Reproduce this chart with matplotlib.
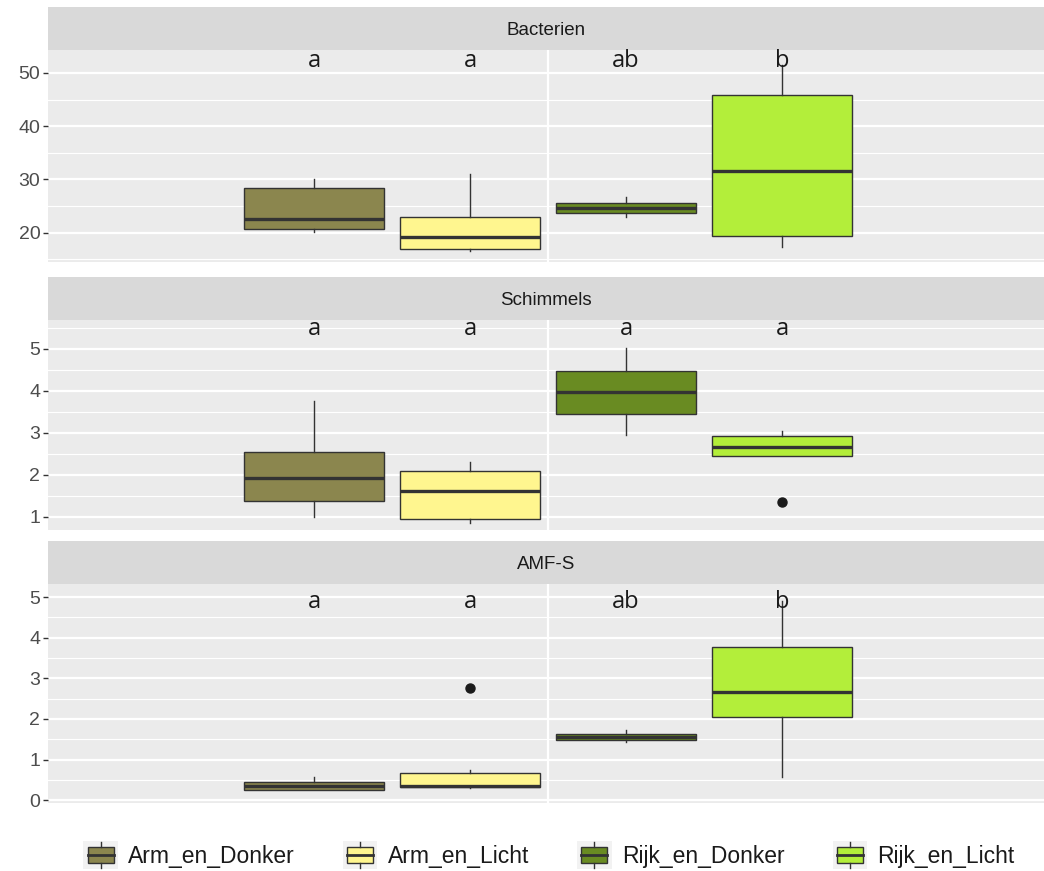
import matplotlib
matplotlib.use("Agg")
import matplotlib.pyplot as plt
from matplotlib.patches import Patch, Rectangle
from matplotlib.lines import Line2D
from matplotlib.legend_handler import HandlerBase

plt.rcParams["font.family"] = ["Liberation Sans", "DejaVu Sans"]

# groepen en kleuren
groups = ["Arm_en_Donker", "Arm_en_Licht", "Rijk_en_Donker", "Rijk_en_Licht"]
colors = ["#8B864E", "#FFF68F", "#698B22", "#B3EE3A"]

# Bacterien
bact_q1 = [20.7, 16.9, 23.7, 19.3]
bact_med = [22.6, 19.1, 24.6, 31.5]
bact_q3 = [28.3, 23.0, 25.6, 45.8]
bact_lo = [20.2, 16.5, 23.0, 17.4]
bact_hi = [30.0, 31.1, 26.7, 51.5]
bact_out = [[], [], [], []]
bact_letters = ["a", "a", "ab", "b"]
bact_letter_y = 52.2

# Schimmels
schim_q1 = [1.36, 0.95, 3.45, 2.45]
schim_med = [1.92, 1.61, 3.96, 2.65]
schim_q3 = [2.53, 2.09, 4.47, 2.92]
schim_lo = [0.98, 0.85, 2.94, 2.45]
schim_hi = [3.76, 2.31, 5.02, 3.04]
schim_out = [[], [], [], [1.34]]
schim_letters = ["a", "a", "a", "a"]
schim_letter_y = 5.46

# AMF-S
amf_q1 = [0.26, 0.32, 1.48, 2.04]
amf_med = [0.34, 0.36, 1.55, 2.66]
amf_q3 = [0.45, 0.66, 1.62, 3.77]
amf_lo = [0.24, 0.30, 1.43, 0.57]
amf_hi = [0.56, 0.74, 1.73, 4.90]
amf_out = [[], [2.76], [], []]
amf_letters = ["a", "a", "ab", "b"]
amf_letter_y = 4.88

W, H = 1044, 871
fig = plt.figure(figsize=(W / 100, H / 100), dpi=100)

EDGE = "#333333"


def px_axes(left, top, right, bottom):
    return fig.add_axes([left / W, 1 - bottom / H, (right - left) / W, (bottom - top) / H])


def panel(title, q1, med, q3, lo, hi, out, letters, letter_y,
          top, bottom, ylim, major, minor):
    # strip boven het paneel
    st = px_axes(48, top - 43, W, top)
    st.set_facecolor("#D9D9D9")
    st.set_xticks([]); st.set_yticks([])
    for s in st.spines.values():
        s.set_visible(False)
    st.text(0.5, 0.45, title, ha="center", va="center", fontsize=13.5,
            color="#1A1A1A", transform=st.transAxes)

    ax = px_axes(48, top, W, bottom)
    ax.set_facecolor("#EBEBEB")
    for s in ax.spines.values():
        s.set_visible(False)
    ax.set_xlim(1 - 500 / 832, 1 + 496 / 832)
    ax.set_ylim(*ylim)
    ax.set_yticks(major)
    ax.set_yticks(minor, minor=True)
    ax.set_xticks([1])
    ax.set_xticklabels([])
    ax.grid(True, which="major", color="white", lw=1.6)
    ax.grid(True, which="minor", axis="y", color="white", lw=0.8)
    ax.set_axisbelow(True)
    ax.tick_params(axis="y", which="major", length=3.5, width=1, color="#333333",
                   labelsize=14, labelcolor="#4D4D4D", pad=2)
    ax.tick_params(axis="y", which="minor", length=0)
    ax.tick_params(axis="x", length=0)

    stats = []
    for i in range(len(groups)):
        stats.append(dict(med=med[i], q1=q1[i], q3=q3[i], whislo=lo[i],
                          whishi=hi[i], fliers=out[i]))
    pos = [1 + (i - 1.5) * 0.1875 for i in range(len(groups))]
    bp = ax.bxp(stats, positions=pos, widths=0.169, patch_artist=True,
                showcaps=False, manage_ticks=False,
                boxprops=dict(edgecolor=EDGE, lw=1),
                whiskerprops=dict(color=EDGE, lw=1),
                medianprops=dict(color=EDGE, lw=2.4, solid_capstyle="butt"),
                flierprops=dict(marker="o", markerfacecolor="#1A1A1A",
                                markeredgecolor="#1A1A1A", markersize=6.5))
    for b, c in zip(bp["boxes"], colors):
        b.set_facecolor(c)
    for p, t in zip(pos, letters):
        ax.text(p, letter_y, t, ha="center", va="center", fontsize=17,
                color="#1A1A1A", family=["Open Sans", "DejaVu Sans"])
    return ax


panel("Bacterien", bact_q1, bact_med, bact_q3, bact_lo, bact_hi, bact_out,
      bact_letters, bact_letter_y, 50, 262, (14.5, 54.3),
      [20, 30, 40, 50], [15, 25, 35, 45])
panel("Schimmels", schim_q1, schim_med, schim_q3, schim_lo, schim_hi, schim_out,
      schim_letters, schim_letter_y, 320, 530, (0.68, 5.68),
      [1, 2, 3, 4, 5], [1.5, 2.5, 3.5, 4.5, 5.5])
panel("AMF-S", amf_q1, amf_med, amf_q3, amf_lo, amf_hi, amf_out,
      amf_letters, amf_letter_y, 584, 803, (-0.07, 5.32),
      [0, 1, 2, 3, 4, 5], [0.5, 1.5, 2.5, 3.5, 4.5])


class BoxKey(HandlerBase):
    """legenda-sleutel als mini-boxplot (zoals ggplot)"""
    def create_artists(self, legend, orig_handle, xdescent, ydescent,
                       width, height, fontsize, trans):
        x0, y0, w, h = -xdescent, -ydescent, width, height
        bg = Rectangle((x0, y0), w, h, fc="#F2F2F2", ec="none")
        box = Rectangle((x0 + 0.12 * w, y0 + 0.22 * h), 0.76 * w, 0.56 * h,
                        fc=orig_handle.get_facecolor(), ec=EDGE, lw=1)
        med = Line2D([x0 + 0.12 * w, x0 + 0.88 * w], [y0 + 0.5 * h] * 2,
                     color=EDGE, lw=2)
        wlo = Line2D([x0 + 0.5 * w] * 2, [y0 + 0.05 * h, y0 + 0.22 * h], color=EDGE, lw=1)
        whi = Line2D([x0 + 0.5 * w] * 2, [y0 + 0.78 * h, y0 + 0.95 * h], color=EDGE, lw=1)
        arts = [bg, box, med, wlo, whi]
        for a in arts:
            a.set_transform(trans)
        return arts


handles = [Patch(facecolor=c, label=g) for g, c in zip(groups, colors)]
fig.legend(handles=handles, labels=groups, handler_map={Patch: BoxKey()},
           loc="center left", bbox_to_anchor=(72 / W, 1 - 855 / H), ncol=4,
           frameon=False, fontsize=16.5, handlelength=1.5, handleheight=1.5,
           handletextpad=0.45, columnspacing=2.1, borderpad=0,
           labelcolor="#1A1A1A")

fig.savefig("out.png", dpi=100)
